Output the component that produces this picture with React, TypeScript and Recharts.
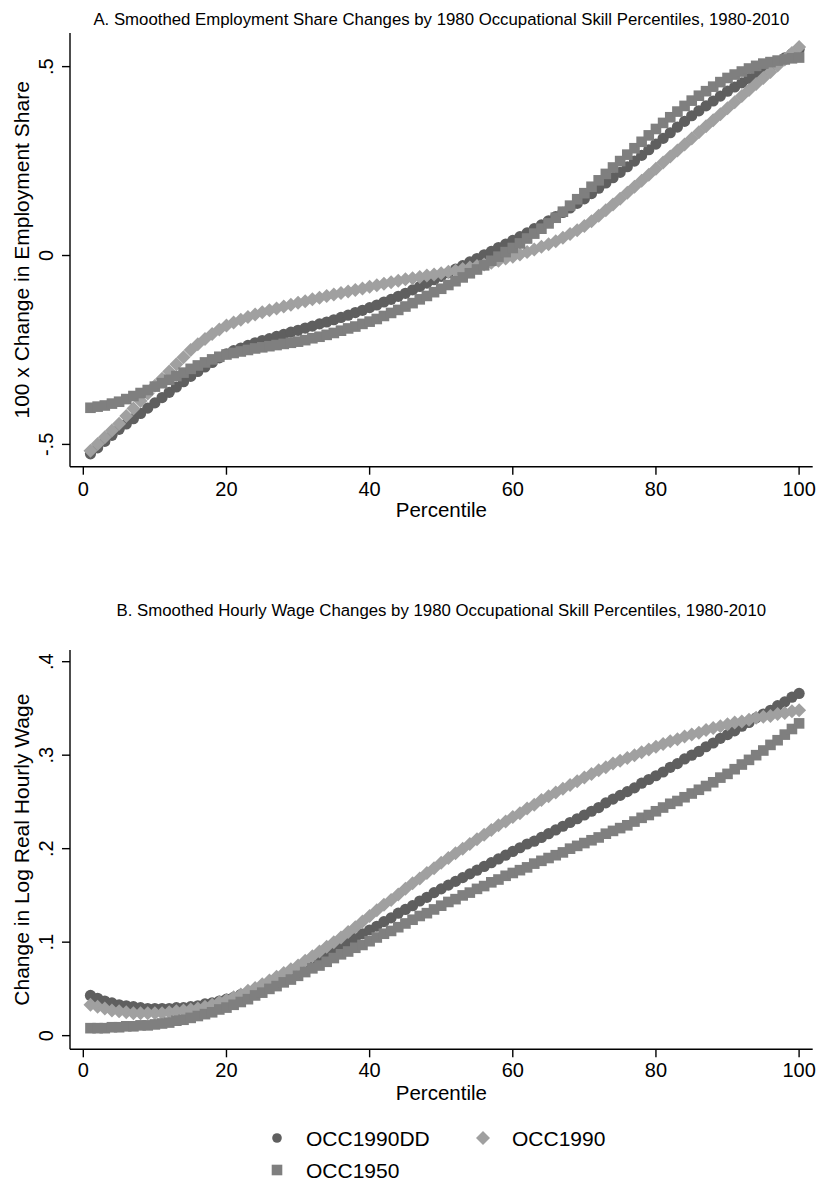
import React from 'react';
import { ScatterChart, Scatter, XAxis, YAxis, Label } from 'recharts';

// percentile positions on the x axis
const PERCENTILES = Array.from({ length: 100 }, (_, i) => i + 1);

// Panel A: 100 x change in employment share
const EMP_OCC1990DD = [
  -0.525, -0.509, -0.492, -0.476, -0.46, -0.446, -0.432, -0.418, -0.404, -0.39,
  -0.376, -0.362, -0.348, -0.334, -0.32, -0.307, -0.295, -0.283, -0.271, -0.26,
  -0.252, -0.245, -0.238, -0.231, -0.225, -0.22, -0.214, -0.209, -0.203, -0.198,
  -0.192, -0.187, -0.181, -0.176, -0.17, -0.164, -0.158, -0.151, -0.145, -0.138,
  -0.131, -0.123, -0.116, -0.108, -0.1, -0.091, -0.082, -0.073, -0.064, -0.055,
  -0.046, -0.036, -0.027, -0.017, -0.008, 0.002, 0.011, 0.021, 0.03, 0.04,
  0.05, 0.06, 0.071, 0.081, 0.092, 0.103, 0.114, 0.126, 0.138, 0.15,
  0.164, 0.178, 0.192, 0.206, 0.22, 0.235, 0.25, 0.265, 0.28, 0.295,
  0.31, 0.325, 0.34, 0.355, 0.37, 0.383, 0.396, 0.409, 0.422, 0.435,
  0.446, 0.457, 0.468, 0.479, 0.49, 0.501, 0.512, 0.523, 0.534, 0.545,
];
const EMP_OCC1990 = [
  -0.517, -0.499, -0.481, -0.463, -0.445, -0.425, -0.405, -0.385, -0.365, -0.345,
  -0.326, -0.307, -0.288, -0.269, -0.25, -0.235, -0.221, -0.208, -0.196, -0.185,
  -0.177, -0.17, -0.163, -0.156, -0.15, -0.145, -0.14, -0.135, -0.13, -0.125,
  -0.121, -0.116, -0.112, -0.107, -0.103, -0.099, -0.095, -0.091, -0.087, -0.083,
  -0.079, -0.075, -0.071, -0.067, -0.063, -0.06, -0.057, -0.053, -0.05, -0.047,
  -0.043, -0.04, -0.036, -0.032, -0.028, -0.024, -0.019, -0.014, -0.008, -0.003,
  0.003, 0.009, 0.016, 0.023, 0.03, 0.038, 0.047, 0.057, 0.067, 0.078,
  0.091, 0.105, 0.12, 0.135, 0.15, 0.166, 0.182, 0.198, 0.214, 0.23,
  0.246, 0.262, 0.278, 0.294, 0.31, 0.326, 0.342, 0.358, 0.374, 0.39,
  0.406, 0.422, 0.438, 0.454, 0.47, 0.486, 0.503, 0.519, 0.536, 0.552,
];
const EMP_OCC1950 = [
  -0.403, -0.4, -0.397, -0.392, -0.387, -0.38, -0.372, -0.364, -0.356, -0.347,
  -0.338, -0.329, -0.319, -0.31, -0.3, -0.291, -0.283, -0.275, -0.268, -0.262,
  -0.258, -0.254, -0.25, -0.246, -0.243, -0.24, -0.237, -0.234, -0.231, -0.228,
  -0.224, -0.219, -0.215, -0.21, -0.205, -0.199, -0.193, -0.188, -0.181, -0.175,
  -0.168, -0.16, -0.152, -0.144, -0.135, -0.126, -0.116, -0.107, -0.097, -0.088,
  -0.078, -0.068, -0.058, -0.047, -0.037, -0.026, -0.014, -0.003, 0.009, 0.02,
  0.032, 0.045, 0.058, 0.071, 0.085, 0.1, 0.116, 0.132, 0.149, 0.165,
  0.182, 0.199, 0.216, 0.233, 0.25, 0.267, 0.284, 0.301, 0.318, 0.335,
  0.351, 0.366, 0.381, 0.396, 0.41, 0.423, 0.435, 0.447, 0.459, 0.47,
  0.479, 0.487, 0.495, 0.502, 0.508, 0.512, 0.516, 0.519, 0.522, 0.524,
];

// Panel B: change in log real hourly wage
const WAGE_OCC1990DD = [
  0.043, 0.04, 0.037, 0.035, 0.033, 0.032, 0.031, 0.03, 0.029, 0.029,
  0.029, 0.029, 0.03, 0.03, 0.031, 0.032, 0.034, 0.035, 0.037, 0.039,
  0.041, 0.044, 0.046, 0.049, 0.052, 0.055, 0.059, 0.062, 0.066, 0.07,
  0.074, 0.078, 0.082, 0.087, 0.091, 0.095, 0.1, 0.104, 0.109, 0.113,
  0.117, 0.122, 0.126, 0.131, 0.135, 0.139, 0.144, 0.148, 0.153, 0.157,
  0.161, 0.165, 0.169, 0.173, 0.177, 0.181, 0.185, 0.189, 0.193, 0.197,
  0.201, 0.205, 0.208, 0.212, 0.216, 0.22, 0.224, 0.228, 0.232, 0.236,
  0.24, 0.244, 0.249, 0.253, 0.257, 0.261, 0.265, 0.27, 0.274, 0.278,
  0.282, 0.287, 0.291, 0.296, 0.3, 0.304, 0.309, 0.313, 0.318, 0.322,
  0.326, 0.331, 0.335, 0.34, 0.344, 0.348, 0.353, 0.357, 0.362, 0.366,
];
const WAGE_OCC1990 = [
  0.033, 0.031, 0.029, 0.027, 0.026, 0.025, 0.024, 0.024, 0.024, 0.024,
  0.024, 0.025, 0.026, 0.027, 0.028, 0.029, 0.031, 0.033, 0.036, 0.038,
  0.041, 0.044, 0.048, 0.051, 0.055, 0.059, 0.063, 0.067, 0.071, 0.075,
  0.08, 0.085, 0.09, 0.095, 0.1, 0.105, 0.111, 0.116, 0.122, 0.128,
  0.134, 0.14, 0.145, 0.151, 0.157, 0.163, 0.168, 0.174, 0.179, 0.185,
  0.19, 0.195, 0.2, 0.205, 0.21, 0.215, 0.22, 0.225, 0.229, 0.234,
  0.238, 0.243, 0.247, 0.252, 0.256, 0.26, 0.264, 0.268, 0.272, 0.276,
  0.28, 0.284, 0.287, 0.291, 0.294, 0.297, 0.3, 0.303, 0.306, 0.309,
  0.312, 0.315, 0.317, 0.32, 0.322, 0.324, 0.327, 0.329, 0.331, 0.333,
  0.335, 0.336, 0.338, 0.34, 0.341, 0.342, 0.344, 0.345, 0.347, 0.348,
];
const WAGE_OCC1950 = [
  0.008, 0.008, 0.008, 0.009, 0.009, 0.01, 0.01, 0.011, 0.011, 0.012,
  0.013, 0.014, 0.016, 0.017, 0.019, 0.021, 0.023, 0.025, 0.028, 0.03,
  0.033, 0.036, 0.039, 0.043, 0.046, 0.05, 0.053, 0.057, 0.06, 0.064,
  0.068, 0.072, 0.075, 0.079, 0.083, 0.087, 0.09, 0.094, 0.097, 0.101,
  0.105, 0.109, 0.112, 0.116, 0.12, 0.124, 0.128, 0.131, 0.135, 0.139,
  0.143, 0.146, 0.15, 0.153, 0.157, 0.16, 0.164, 0.167, 0.171, 0.174,
  0.177, 0.18, 0.184, 0.187, 0.19, 0.193, 0.196, 0.2, 0.203, 0.206,
  0.209, 0.212, 0.216, 0.219, 0.222, 0.225, 0.229, 0.233, 0.236, 0.24,
  0.244, 0.248, 0.251, 0.255, 0.259, 0.263, 0.267, 0.271, 0.276, 0.28,
  0.285, 0.29, 0.295, 0.3, 0.305, 0.311, 0.316, 0.322, 0.328, 0.334,
];

const X_TICKS = [0, 20, 40, 60, 80, 100];
const EMP_TICKS = [-0.5, 0, 0.5];
const WAGE_TICKS = [0, 0.1, 0.2, 0.3, 0.4];

const FONT = '"Liberation Sans", Arial, Helvetica, sans-serif';
const C_DD = '#5f5f5f';
const C_90 = '#a0a0a0';
const C_50 = '#7f7f7f';

const toPoints = (vals: number[]) => PERCENTILES.map((p, i) => ({ p, v: vals[i] }));

const fmt = (v: number) => (v === 0 ? '0' : String(v).replace('0.', '.'));

const CircleMark = (props: any) => <circle cx={props.cx} cy={props.cy} r={5.6} fill={C_DD} />;
const DiamondMark = (props: any) => {
  const { cx, cy } = props;
  const r = 7;
  return <polygon points={`${cx},${cy - r} ${cx + r},${cy} ${cx},${cy + r} ${cx - r},${cy}`} fill={C_90} />;
};
const SquareMark = (props: any) => (
  <rect x={props.cx - 5.3} y={props.cy - 5.3} width={10.6} height={10.6} fill={C_50} />
);

// Stata-style vertical tick labels on the y axis
const YTick = (props: any) => {
  const { x, y, payload } = props;
  return (
    <text x={x} y={y} transform={`rotate(-90 ${x} ${y})`} textAnchor="middle" fill="#000" fontSize={20} fontFamily={FONT}>
      {fmt(payload.value)}
    </text>
  );
};

const yTitle = (text: string) => (props: any) => {
  const vb = props.viewBox;
  const cx = vb.x + 29;
  const cy = vb.y + vb.height / 2;
  return (
    <text x={cx} y={cy} transform={`rotate(-90 ${cx} ${cy})`} textAnchor="middle" fill="#000" fontSize={21} fontFamily={FONT}>
      {text}
    </text>
  );
};

const xTitle = (props: any) => {
  const vb = props.viewBox;
  return (
    <text x={vb.x + vb.width / 2} y={vb.y + 50.5} textAnchor="middle" fill="#000" fontSize={20.5} fontFamily={FONT}>
      Percentile
    </text>
  );
};

interface PanelProps {
  top: number;
  height: number;
  marginTop: number;
  marginBottom: number;
  domain: [number, number];
  ticks: number[];
  tickMargin: number;
  yLabel: string;
  dd: number[];
  o90: number[];
  o50: number[];
}

function Panel(p: PanelProps) {
  return (
    <div style={{ position: 'absolute', left: 0, top: p.top }}>
      <ScatterChart
        width={821}
        height={p.height}
        margin={{ top: p.marginTop, right: 8.3, left: 0, bottom: p.marginBottom }}
      >
        <XAxis
          type="number"
          dataKey="p"
          domain={[-1.86, 101.9]}
          ticks={X_TICKS}
          allowDataOverflow
          height={55}
          tickSize={8}
          tickMargin={p.tickMargin}
          tick={{ fill: '#000', fontSize: 20, fontFamily: FONT }}
          axisLine={{ stroke: '#000', strokeWidth: 1.4 }}
          tickLine={{ stroke: '#000', strokeWidth: 1.4 }}
        >
          <Label content={xTitle} />
        </XAxis>
        <YAxis
          type="number"
          dataKey="v"
          domain={p.domain}
          ticks={p.ticks}
          allowDataOverflow
          width={70}
          tickSize={8}
          tickMargin={9}
          tick={<YTick />}
          axisLine={{ stroke: '#000', strokeWidth: 1.4 }}
          tickLine={{ stroke: '#000', strokeWidth: 1.4 }}
        >
          <Label content={yTitle(p.yLabel)} />
        </YAxis>
        <Scatter data={toPoints(p.dd)} fill={C_DD} shape={CircleMark} isAnimationActive={false} />
        <Scatter data={toPoints(p.o90)} fill={C_90} shape={DiamondMark} isAnimationActive={false} />
        <Scatter data={toPoints(p.o50)} fill={C_50} shape={SquareMark} isAnimationActive={false} />
      </ScatterChart>
    </div>
  );
}

const titleStyle: React.CSSProperties = {
  position: 'absolute',
  left: 70,
  width: 742.7,
  textAlign: 'center',
  fontFamily: FONT,
  fontSize: 16.8,
  lineHeight: '17px',
  color: '#000',
  whiteSpace: 'nowrap',
};

export default function App() {
  return (
    <div style={{ position: 'absolute', left: 0, top: 0, width: 821, height: 1181, background: '#fff', fontFamily: FONT }}>
      <div style={{ ...titleStyle, top: 11 }}>
        A. Smoothed Employment Share Changes by 1980 Occupational Skill Percentiles, 1980-2010
      </div>
      <Panel
        top={0}
        height={530}
        marginTop={33}
        marginBottom={8.3}
        domain={[-0.559, 0.589]}
        ticks={EMP_TICKS}
        tickMargin={7}
        yLabel="100 x Change in Employment Share"
        dd={EMP_OCC1990DD}
        o90={EMP_OCC1990}
        o50={EMP_OCC1950}
      />
      <div style={{ ...titleStyle, top: 602 }}>
        B. Smoothed Hourly Wage Changes by 1980 Occupational Skill Percentiles, 1980-2010
      </div>
      <Panel
        top={580}
        height={540}
        marginTop={70}
        marginBottom={15.7}
        domain={[-0.0146, 0.4125]}
        ticks={WAGE_TICKS}
        tickMargin={5}
        yLabel="Change in Log Real Hourly Wage"
        dd={WAGE_OCC1990DD}
        o90={WAGE_OCC1990}
        o50={WAGE_OCC1950}
      />
      <svg width={821} height={61} style={{ position: 'absolute', left: 0, top: 1120 }}>
        <circle cx={277} cy={18} r={4.8} fill={C_DD} />
        <text x={306} y={25.5} fontSize={21} fontFamily={FONT} fill="#000">OCC1990DD</text>
        <polygon points="483,11 490,18 483,25 476,18" fill={C_90} />
        <text x={512} y={25.5} fontSize={21} fontFamily={FONT} fill="#000">OCC1990</text>
        <rect x={271.7} y={44.7} width={10.6} height={10.6} fill={C_50} />
        <text x={306} y={57.5} fontSize={21} fontFamily={FONT} fill="#000">OCC1950</text>
      </svg>
    </div>
  );
}
